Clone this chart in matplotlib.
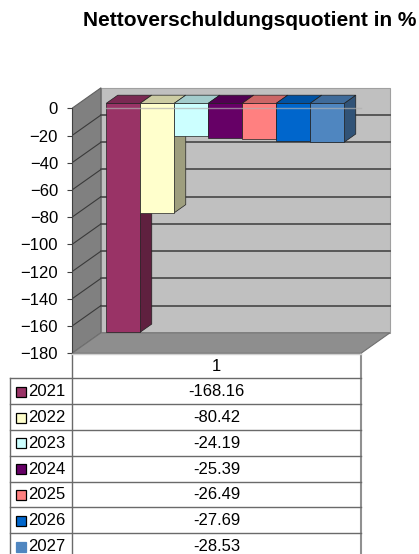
import matplotlib.pyplot as plt
import matplotlib.colors as mcolors
from matplotlib.patches import Polygon

title = "Nettoverschuldungsquotient in %"
category = "1"
years = ["2021", "2022", "2023", "2024", "2025", "2026", "2027"]
values = [-168.16, -80.42, -24.19, -25.39, -26.49, -27.69, -28.53]
colors = ["#993366", "#ffffcc", "#ccffff", "#660066", "#ff8080", "#0066cc", "#4f86c0"]
yticks = [0, -20, -40, -60, -80, -100, -120, -140, -160, -180]

plt.rcParams["font.family"] = ["Liberation Sans", "DejaVu Sans"]


def shade(c, k):
    r, g, b = mcolors.to_rgb(c)
    return (r * k, g * k, b * k)


fig = plt.figure(figsize=(4.19, 5.54), dpi=100)

# 3d box geometry (x in bar widths, y in data units)
ymin = yticks[-1]
plane_w = 8.5
gap = 0.8
DX, DY = 0.853, 15.06
f0, f1 = 0.24, 0.64

ax = fig.add_axes([72 / 419, (554 - 353.3) / 554, 328 / 419, (353.3 - 80) / 554])
ax.set_xlim(0, 328 / 34)
ax.set_ylim(ymin, (108.3 - 80) / 1.3611)
for s in ax.spines.values():
    s.set_visible(False)
ax.set_xticks([])
ax.set_yticks(yticks)
ax.tick_params(axis="y", direction="out", length=3.6, width=0.8, color="#404040",
               pad=6.5, labelsize=12)

# back wall
ax.add_patch(Polygon([(DX, DY), (plane_w + DX, DY), (plane_w + DX, ymin + DY), (DX, ymin + DY)],
                     closed=True, facecolor="#c0c0c0", edgecolor="#a0a0a0", lw=0.8, zorder=1))
for t in yticks[1:-1]:
    ax.plot([DX, plane_w + DX], [t + DY, t + DY], color="#505050", lw=1.3, zorder=1.5)

# left wall
ax.add_patch(Polygon([(0, 0), (DX, DY), (DX, ymin + DY), (0, ymin)],
                     closed=True, facecolor="#808080", edgecolor="#606060", lw=0.8, zorder=1))
for t in yticks[1:-1]:
    ax.plot([0, DX], [t, t + DY], color="#3a3a3a", lw=0.8, zorder=1.5)

# floor
ax.add_patch(Polygon([(0, ymin), (plane_w, ymin), (plane_w + DX, ymin + DY), (DX, ymin + DY)],
                     closed=True, facecolor="#8e8e8e", edgecolor="#707070", lw=0.8, zorder=2,
                     clip_on=False))

# bars
d = f1 - f0
for i, (v, c) in enumerate(zip(values, colors)):
    x0 = gap + i + f0 * DX
    y0 = f0 * DY
    z = 3 + 3 * i
    ax.add_patch(Polygon([(x0 + 1, y0), (x0 + 1 + d * DX, y0 + d * DY),
                          (x0 + 1 + d * DX, y0 + v + d * DY), (x0 + 1, y0 + v)],
                         closed=True, facecolor=shade(c, 0.62), edgecolor="#202020",
                         lw=0.5, zorder=z))
    ax.add_patch(Polygon([(x0, y0), (x0 + 1, y0), (x0 + 1 + d * DX, y0 + d * DY),
                          (x0 + d * DX, y0 + d * DY)],
                         closed=True, facecolor=shade(c, 0.8), edgecolor="#202020",
                         lw=0.5, zorder=z + 1))
    ax.bar(x0, v, width=1, bottom=y0, align="edge", color=c, edgecolor="#202020",
           linewidth=0.5, zorder=z + 2)

# front zero line and axis edge
ax.plot([gap + f0 * DX, plane_w], [0, 0], color="#b0b0b0", lw=1, alpha=0.7, zorder=60)
ax.plot([0, 0], [0, ymin], color="#404040", lw=0.8, zorder=60, clip_on=False)

fig.text(250 / 419, 1 - 21 / 554, title, ha="center", va="center",
         fontsize=15, fontweight="bold")

# data table
axt = fig.add_axes([0, 0, 1, (554 - 353.3) / 554])
axt.set_xlim(0, 419)
axt.set_ylim(554, 353.3)
axt.axis("off")

left, mid, right = 10, 72, 72 + plane_w * 34
head_top, head_bot, row_h = 353.3, 378.3, 25.8
line_c = "#6a6a6a"

axt.plot([mid, mid], [head_top, 554], color=line_c, lw=1)
axt.plot([right, right], [head_top, 554], color="#909090", lw=1.5)
axt.plot([left, left], [head_bot, 554], color=line_c, lw=1)
axt.plot([mid, right], [head_top + 1, head_top + 1], color="#d0d0d0", lw=1)
axt.text((mid + right) / 2, (head_top + head_bot) / 2 + 1, category, ha="center",
         va="center", fontsize=12)

for i, (yr, v, c) in enumerate(zip(years, values, colors)):
    top = head_bot + i * row_h
    axt.plot([left, right], [top, top], color=line_c, lw=1)
    yc = top + row_h / 2 + 0.5
    ec = c if i == len(years) - 1 else "black"
    axt.plot(20.5, yc, marker="s", markersize=6.5, markerfacecolor=c,
             markeredgecolor=ec, markeredgewidth=0.9)
    axt.text(28, yc, yr, ha="left", va="center", fontsize=12)
    axt.text((mid + right) / 2, yc, f"{v:.2f}", ha="center", va="center", fontsize=12)

fig.savefig("out.png", dpi=100)
